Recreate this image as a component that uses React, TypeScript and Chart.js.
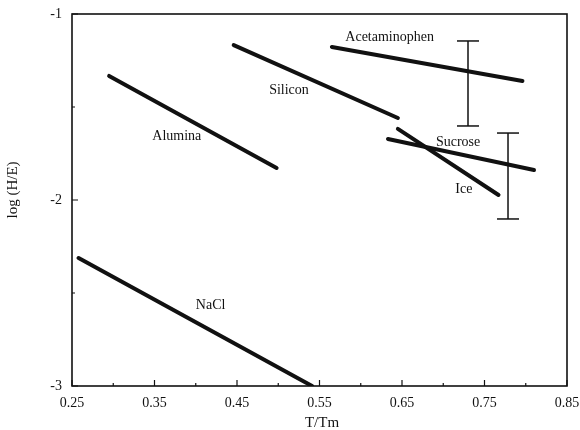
import React, { useEffect, useRef } from "react";
import { Chart, registerables } from "chart.js";

Chart.register(...registerables);

const xTickVals = [0.25, 0.35, 0.45, 0.55, 0.65, 0.75, 0.85];
const xMinorVals = [0.3, 0.4, 0.5, 0.6, 0.7, 0.8];
const yTickVals = [-1, -2, -3];
const yMinorVals = [-1.5, -2.5];

const aluminaX = [0.295, 0.498];
const aluminaY = [-1.333, -1.828];
const siliconX = [0.446, 0.645];
const siliconY = [-1.167, -1.559];
const acetX = [0.565, 0.796];
const acetY = [-1.177, -1.36];
const sucroseX = [0.633, 0.81];
const sucroseY = [-1.672, -1.839];
const iceX = [0.645, 0.767];
const iceY = [-1.618, -1.973];
const naclX = [0.258, 0.541];
const naclY = [-2.312, -3.0];

const errX = [0.73, 0.7785];
const errHigh = [-1.145, -1.64];
const errLow = [-1.602, -2.102];

const labelText = ["Acetaminophen", "Silicon", "Alumina", "Sucrose", "Ice", "NaCl"];
const labelX = [0.635, 0.513, 0.377, 0.718, 0.725, 0.418];
const labelY = [-1.124, -1.409, -1.656, -1.688, -1.941, -2.565];

const FONT = "'Liberation Serif', 'DejaVu Serif', serif";

function seg(xs: number[], ys: number[]) {
  return xs.map((x, i) => ({ x, y: ys[i] }));
}

export default function App() {
  const ref = useRef<HTMLCanvasElement | null>(null);
  useEffect(() => {
    if (!ref.current) return;
    const lineDs = (xs: number[], ys: number[]) => ({
      type: "line" as const,
      data: seg(xs, ys),
      borderColor: "#111",
      borderWidth: 4,
      borderCapStyle: "round" as const,
      pointRadius: 0,
      showLine: true,
      fill: false,
    });
    const errDs = errX.map((x, i) => ({
      type: "line" as const,
      data: [
        { x, y: errHigh[i] },
        { x, y: errLow[i] },
      ],
      borderColor: "#111",
      borderWidth: 1.5,
      pointStyle: "line" as const,
      pointRadius: 11,
      pointBorderColor: "#111",
      pointBorderWidth: 1.5,
      showLine: true,
      fill: false,
    }));

    const framePlugin = {
      id: "frame",
      afterDatasetsDraw(chart: any) {
        const { ctx, chartArea: a, scales } = chart;
        const xs = scales.x, ys = scales.y;
        ctx.save();
        ctx.strokeStyle = "#111";
        ctx.lineWidth = 1.6;
        ctx.strokeRect(a.left, a.top, a.right - a.left, a.bottom - a.top);
        ctx.lineWidth = 1.2;
        ctx.beginPath();
        xTickVals.forEach((v) => {
          const px = xs.getPixelForValue(v);
          ctx.moveTo(px, a.bottom);
          ctx.lineTo(px, a.bottom - 6);
        });
        xMinorVals.forEach((v) => {
          const px = xs.getPixelForValue(v);
          ctx.moveTo(px, a.bottom);
          ctx.lineTo(px, a.bottom - 3);
        });
        yTickVals.forEach((v) => {
          const py = ys.getPixelForValue(v);
          ctx.moveTo(a.left, py);
          ctx.lineTo(a.left + 6, py);
        });
        yMinorVals.forEach((v) => {
          const py = ys.getPixelForValue(v);
          ctx.moveTo(a.left, py);
          ctx.lineTo(a.left + 3, py);
        });
        ctx.stroke();

        ctx.fillStyle = "#111";
        ctx.font = `14px ${FONT}`;
        ctx.textAlign = "center";
        ctx.textBaseline = "middle";
        labelText.forEach((t, i) => {
          ctx.fillText(t, xs.getPixelForValue(labelX[i]), ys.getPixelForValue(labelY[i]));
        });
        ctx.font = `15px ${FONT}`;
        ctx.fillText("T/Tm", 322, 423);
        ctx.translate(13, 190);
        ctx.rotate(-Math.PI / 2);
        ctx.fillText("log (H/E)", 0, 0);
        ctx.restore();
      },
    };

    const chart = new Chart(ref.current, {
      type: "scatter",
      data: {
        datasets: [
          lineDs(aluminaX, aluminaY),
          lineDs(siliconX, siliconY),
          lineDs(acetX, acetY),
          lineDs(sucroseX, sucroseY),
          lineDs(iceX, iceY),
          lineDs(naclX, naclY),
          ...errDs,
        ] as any,
      },
      options: {
        animation: false,
        responsive: false,
        layout: { padding: { top: 14, right: 13, left: 0, bottom: 0 } },
        plugins: { legend: { display: false }, tooltip: { enabled: false } },
        scales: {
          x: {
            type: "linear",
            min: 0.25,
            max: 0.85,
            grid: { display: false, drawTicks: false, tickLength: 0 },
            border: { display: false },
            afterBuildTicks: (s: any) => {
              s.ticks = xTickVals.map((v) => ({ value: v }));
            },
            afterFit: (s: any) => {
              s.height = 44;
              s.paddingLeft = 0;
              s.paddingRight = 0;
            },
            ticks: {
              color: "#111",
              padding: 9,
              maxRotation: 0,
              font: { family: FONT, size: 14 },
              callback: (v: any) => Number(v).toFixed(2),
            },
          },
          y: {
            type: "linear",
            min: -3,
            max: -1,
            grid: { display: false, drawTicks: false, tickLength: 0 },
            border: { display: false },
            afterBuildTicks: (s: any) => {
              s.ticks = yTickVals.map((v) => ({ value: v }));
            },
            afterFit: (s: any) => {
              s.width = 72;
              s.paddingTop = 0;
              s.paddingBottom = 0;
            },
            ticks: {
              color: "#111",
              padding: 10,
              font: { family: FONT, size: 14 },
              callback: (v: any) => String(Math.round(Number(v))),
            },
          },
        },
      },
      plugins: [framePlugin],
    });
    return () => chart.destroy();
  }, []);

  return (
    <div style={{ position: "fixed", left: 0, top: 0, width: 580, height: 430, background: "#fff" }}>
      <canvas ref={ref} width={580} height={430} />
    </div>
  );
}
